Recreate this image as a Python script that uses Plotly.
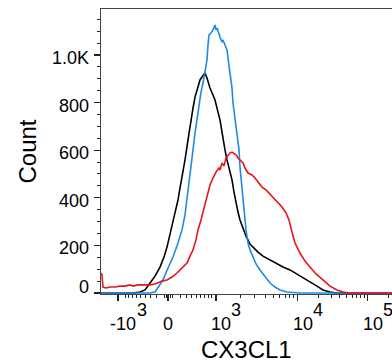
import math
import plotly.graph_objects as go

# ---- data (x in display channels of the biexponential axis, y = count) ----
black_pts = [(0,0),(19,0),(32,0),(39,4),(44,13),(49,42),(54,71),(59,109),(63,151),(66,193),
             (69,244),(72,294),(75,349),(77,391),(79,441),(81,483),(84,559),(87,643),(89,706),
             (92,777),(94,823),(97,861),(99,895),(101,907),(104,924),(106,903),(109,861),
             (112,832),(114,811),(117,760),(119,727),(121,676),(122,643),(124,601),(126,559),
             (129,508),(131,475),(133,424),(135,378),(137,340),(139,307),(142,273),(145,239),
             (149,206),(152,193),(157,172),(162,155),(169,139),(176,122),(182,109),(189,97),
             (196,80),(202,63),(209,46),(216,29),(222,13),(229,4),(236,0),(259,0),(291,0)]

blue_pts = [(0,0),(49,0),(54,4),(59,38),(62,55),(67,105),(72,151),(77,210),(81,265),(84,328),
            (86,391),(88,454),(90,517),(92,601),(94,672),(96,735),(98,798),(100,844),(102,882),
            (104,928),(106,979),(107,1042),(108,1084),(110,1092),(112,1105),(114,1126),
            (115,1105),(116,1113),(117,1096),(119,1075),(121,1054),(122,1063),(124,1042),
            (126,1021),(127,987),(129,924),(131,861),(132,798),(134,735),(136,672),(138,601),
            (139,529),(141,433),(143,340),(145,265),(147,210),(149,181),(152,151),(155,122),
            (159,97),(164,67),(169,42),(174,25),(179,13),(186,4),(199,0),(291,0)]

red_pts = [(0,84),(1,76),(2,25),(5,21),(9,25),(14,25),(19,29),(24,29),(29,34),(32,29),(37,34),
           (42,34),(49,34),(54,38),(56,42),(61,50),(66,55),(71,67),(76,84),(81,105),(86,126),
           (89,155),(92,181),(95,223),(97,265),(100,307),(103,357),(106,407),(109,454),
           (112,483),(115,508),(118,525),(119,517),(121,546),(123,533),(125,567),(127,580),
           (129,588),(131,592),(133,584),(135,580),(137,567),(139,559),(142,546),(144,525),
           (147,504),(149,500),(151,496),(154,483),(157,466),(161,445),(165,433),(169,416),
           (173,399),(177,382),(181,361),(185,336),(188,307),(191,256),(194,210),(199,168),
           (204,134),(209,109),(215,80),(222,55),(229,29),(236,13),(242,4),(249,0),(291,0)]

# axis ticks (display-channel positions of the biexponential scale)
x_tick_pos = [17, 67, 115, 196.7, 266.7]
x_tick_base = ["-10", "0", "10", "10", "10"]
x_tick_exp = ["3", "", "3", "4", "5"]
zero_minor_offsets = [2, 4, 12, 18, 23, 28, 32, 36, 40, 43]

y_tick_vals = [0, 200, 400, 600, 800, 1000]
y_tick_text = ["0", "200", "400", "600", "800", "1.0K"]

FONT = "Arial, Liberation Sans, sans-serif"

def unzip(pts):
    return [p[0] for p in pts], [p[1] for p in pts]

fig = go.Figure()
for pts, col in [(black_pts, "#000000"), (blue_pts, "#1e8ae6"), (red_pts, "#e8141c")]:
    xs, ys = unzip(pts)
    fig.add_trace(go.Scatter(x=xs, y=ys, mode="lines",
                             line=dict(color=col, width=1.6), showlegend=False,
                             hoverinfo="skip"))

# minor tick positions
zero = x_tick_pos[1]
minor = [zero + o for o in zero_minor_offsets] + [zero - o for o in zero_minor_offsets]
for lo, hi in [(x_tick_pos[2], x_tick_pos[3]), (x_tick_pos[3], x_tick_pos[4])]:
    span = hi - lo
    minor += [lo + span * math.log10(k) for k in range(2, 10)]
minor.append(x_tick_pos[4] + (x_tick_pos[4] - x_tick_pos[3]) * math.log10(2))

fig.update_xaxes(range=[0, 291], showgrid=False, zeroline=False, automargin=False,
                 showline=True, linecolor="#444", linewidth=1.3, mirror=True,
                 tickmode="array", tickvals=x_tick_pos, showticklabels=False,
                 ticks="outside", ticklen=6, tickcolor="#222", tickwidth=1.2,
                 minor=dict(tickmode="array", tickvals=minor, ticks="outside",
                            ticklen=3, tickcolor="#222", tickwidth=1))
fig.update_yaxes(range=[-4.2, 1193], showgrid=False, zeroline=False, automargin=False,
                 showline=True, linecolor="#444", linewidth=1.3, mirror=False,
                 tickmode="array", tickvals=y_tick_vals, showticklabels=False,
                 ticks="outside", ticklen=6, tickcolor="#222", tickwidth=1.2,
                 minor=dict(dtick=50, tick0=0, ticks="outside", ticklen=3,
                            tickcolor="#222", tickwidth=1))

ann = []
# y tick labels (FlowJo style: slightly below tick, the "0" lifted off the baseline)
for val, txt in zip(y_tick_vals, y_tick_text):
    ys = 6 if val == 0 else -3
    ann.append(dict(x=0, xref="paper", y=val, yref="y", text=txt, showarrow=False,
                    xanchor="right", yanchor="middle", xshift=-10, yshift=ys,
                    font=dict(family=FONT, size=18, color="#000")))
# x tick labels with full-size raised exponents
for pos, base, exp in zip(x_tick_pos, x_tick_base, x_tick_exp):
    shift = 0 if base == "0" else 5
    ann.append(dict(x=pos, xref="x", y=0, yref="paper", text=base, showarrow=False,
                    xanchor="center", yanchor="middle", xshift=shift, yshift=-29.5,
                    font=dict(family=FONT, size=18, color="#000")))
    if exp:
        sx = 17 if base.startswith("-") else 13
        ann.append(dict(x=pos, xref="x", y=0, yref="paper", text=exp, showarrow=False,
                        xanchor="left", yanchor="middle", xshift=sx, yshift=-15.5,
                        font=dict(family=FONT, size=18, color="#000")))
ann.append(dict(x=0.5, xref="paper", y=0, yref="paper", text="CX3CL1", showarrow=False,
                xanchor="center", yanchor="middle", yshift=-55,
                font=dict(family=FONT, size=24, color="#000")))
ann.append(dict(x=0, xref="paper", y=0.5, yref="paper", text="Count", showarrow=False,
                xanchor="center", yanchor="middle", xshift=-74, textangle=-90,
                font=dict(family=FONT, size=24, color="#000")))

fig.update_layout(width=392, height=362, margin=dict(l=101, r=0, t=9, b=68),
                  paper_bgcolor="white", plot_bgcolor="white", annotations=ann,
                  font=dict(family=FONT))

fig.write_html("out.html", config={"displayModeBar": False, "staticPlot": True},
               post_script="document.body.style.margin='0';document.body.style.overflow='hidden';")
